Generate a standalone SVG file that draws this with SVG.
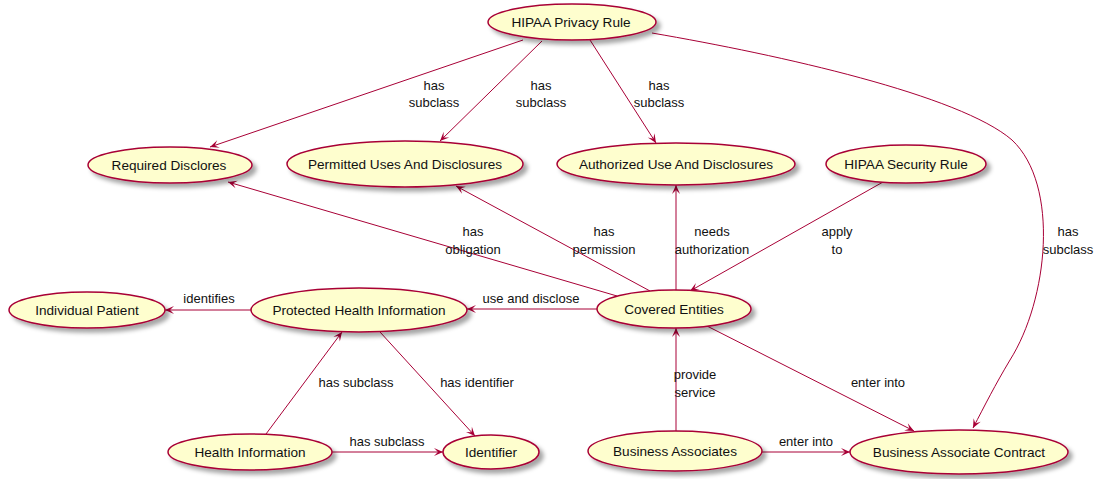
<svg xmlns="http://www.w3.org/2000/svg" width="1095" height="479" viewBox="0 0 1095 479">
<defs>
<filter id="sh" x="-20%" y="-30%" width="140%" height="180%">
<feGaussianBlur in="SourceAlpha" stdDeviation="2" result="b"/>
<feOffset in="b" dx="4" dy="4" result="o"/>
<feFlood flood-color="#000" flood-opacity="0.35"/>
<feComposite in2="o" operator="in" result="s"/>
<feMerge><feMergeNode in="s"/><feMergeNode in="SourceGraphic"/></feMerge>
</filter>
<marker id="ah" markerUnits="userSpaceOnUse" viewBox="-10 -5 11 10" refX="0" refY="0" markerWidth="11" markerHeight="10" orient="auto">
<path d="M0,0 L-9,-4 L-5,0 L-9,4 Z" fill="#A80036"/>
</marker>
</defs>
<style>
.n ellipse{fill:#FEFECE;stroke:#A80036;stroke-width:1.5;filter:url(#sh)}
.n text{font-family:"Liberation Sans",Arial,sans-serif;font-size:13.6px;fill:#111;text-anchor:middle}
.e path{fill:none;stroke:#A80036;stroke-width:1;marker-end:url(#ah)}
.e text{font-family:"Liberation Sans",Arial,sans-serif;font-size:13px;fill:#111;text-anchor:middle}
</style>
<rect width="1095" height="479" fill="#fff"/>
<g id="connectors" class="e">
<path d="M523,40 L210,147"/>
<text x="434" y="90">has</text><text x="434" y="107">subclass</text>
<path d="M542,41 L440,141"/>
<text x="541" y="90">has</text><text x="541" y="107">subclass</text>
<path d="M590,40 L656,143"/>
<text x="659" y="90">has</text><text x="659" y="107">subclass</text>
<path d="M652,33 C780,55 960,95 1012,140 C1060,185 1048,300 1010,360 C995,385 985,405 973,428"/>
<text x="1068" y="236">has</text><text x="1068" y="254">subclass</text>
<path d="M617,296 L228,182"/>
<text x="473" y="236">has</text><text x="473" y="254">obligation</text>
<path d="M650,291 L456,186"/>
<text x="604" y="236">has</text><text x="604" y="254">permission</text>
<path d="M676,290 L676,185"/>
<text x="712" y="236">needs</text><text x="712" y="254">authorization</text>
<path d="M883,182 L690,291"/>
<text x="837" y="236">apply</text><text x="837" y="254">to</text>
<path d="M597,309 L467,309"/>
<text x="531" y="303">use and disclose</text>
<path d="M251,310 L165,310"/>
<text x="209" y="303">identifies</text>
<path d="M266,434 L342,332"/>
<text x="356" y="387">has subclass</text>
<path d="M380,332 L475,436"/>
<text x="477" y="387">has identifier</text>
<path d="M332,452 L443,452"/>
<text x="387" y="446">has subclass</text>
<path d="M676,431 L676,328"/>
<text x="695" y="379">provide</text><text x="695" y="397">service</text>
<path d="M707,326 L914,431"/>
<text x="878" y="387">enter into</text>
<path d="M762,452 L850,452"/>
<text x="806" y="446">enter into</text>
</g>
<g id="privacy" class="n"><ellipse cx="572" cy="22" rx="84" ry="18"/><text x="571" y="27">HIPAA Privacy Rule</text></g>
<g id="required" class="n"><ellipse cx="170" cy="165" rx="82" ry="18"/><text x="169" y="170">Required Disclores</text></g>
<g id="permitted" class="n"><ellipse cx="405" cy="164" rx="118" ry="23"/><text x="405" y="169">Permitted Uses And Disclosures</text></g>
<g id="authorized" class="n"><ellipse cx="676" cy="164" rx="119" ry="21"/><text x="676" y="169">Authorized Use And Disclosures</text></g>
<g id="security" class="n"><ellipse cx="906" cy="164" rx="80" ry="19"/><text x="906" y="169">HIPAA Security Rule</text></g>
<g id="individual" class="n"><ellipse cx="87" cy="310" rx="78" ry="18"/><text x="87" y="315">Individual Patient</text></g>
<g id="phi" class="n"><ellipse cx="359" cy="310" rx="108" ry="22"/><text x="359" y="315">Protected Health Information</text></g>
<g id="covered" class="n"><ellipse cx="674" cy="309" rx="77" ry="19"/><text x="674" y="314">Covered Entities</text></g>
<g id="health" class="n"><ellipse cx="250" cy="452" rx="82" ry="18"/><text x="250" y="457">Health Information</text></g>
<g id="identifier" class="n"><ellipse cx="491" cy="452" rx="48" ry="17"/><text x="491" y="457">Identifier</text></g>
<g id="bassoc" class="n"><ellipse cx="675" cy="451" rx="87" ry="20"/><text x="675" y="456">Business Associates</text></g>
<g id="bac" class="n"><ellipse cx="959" cy="452" rx="109" ry="22"/><text x="959" y="457">Business Associate Contract</text></g>
</svg>
